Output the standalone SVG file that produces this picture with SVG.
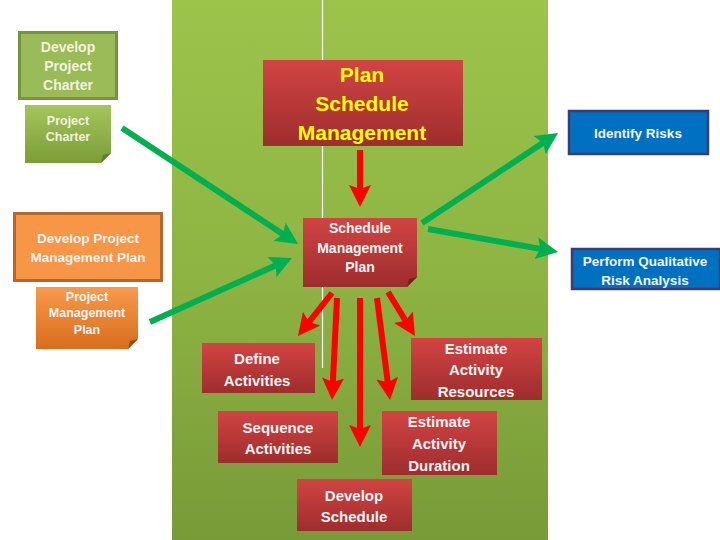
<svg xmlns="http://www.w3.org/2000/svg" width="720" height="540" viewBox="0 0 720 540">
<defs>
  <linearGradient id="gPanel" x1="0" y1="0" x2="0" y2="1">
    <stop offset="0" stop-color="#9cc44b"/>
    <stop offset="0.5" stop-color="#8eb443"/>
    <stop offset="1" stop-color="#789a38"/>
  </linearGradient>
  <linearGradient id="gRed" x1="0" y1="0" x2="0" y2="1">
    <stop offset="0" stop-color="#d24443"/>
    <stop offset="1" stop-color="#9e2d2d"/>
  </linearGradient>
  <linearGradient id="gGreenDoc" x1="0" y1="0" x2="0" y2="1">
    <stop offset="0" stop-color="#a4c65c"/>
    <stop offset="1" stop-color="#7d9c36"/>
  </linearGradient>
  <linearGradient id="gOrangeDoc" x1="0" y1="0" x2="0" y2="1">
    <stop offset="0" stop-color="#f89a4c"/>
    <stop offset="1" stop-color="#d86d1e"/>
  </linearGradient>
  <marker id="hGreen" viewBox="0 -12 22 24" markerWidth="22" markerHeight="24" refX="10" refY="0" orient="auto" markerUnits="userSpaceOnUse">
    <path d="M22 0 L0 -11 L4 0 L0 11 Z" fill="#00b050"/>
  </marker>
  <marker id="hRed" viewBox="0 -12 22 24" markerWidth="22" markerHeight="24" refX="10" refY="0" orient="auto" markerUnits="userSpaceOnUse">
    <path d="M22 0 L0 -11 L4 0 L0 11 Z" fill="#ff0000"/>
  </marker>
</defs>
<style>
  text { font-family: "Liberation Sans", Arial, sans-serif; font-weight: bold; text-anchor: middle; dominant-baseline: central; }
  .w { fill: #f4f4f4; }
  .lg { fill: #f2f2de; }
  .y { fill: #ffff00; font-size: 21px; }
  .redbox { fill: url(#gRed); }
  .fold-red { fill: #7a1f1f; }
  .blue { fill: #0070c0; stroke: #3c3c6e; stroke-width: 2.5; }
  .ga { stroke: #00b050; stroke-width: 6; fill: none; marker-end: url(#hGreen); }
  .ra { stroke: #ff0000; stroke-width: 6; fill: none; marker-end: url(#hRed); }
</style>
<rect width="720" height="540" fill="#ffffff"/>
<g id="panel">
  <rect x="172" y="0" width="376" height="540" fill="url(#gPanel)"/>
  <line x1="322.5" y1="0" x2="322.5" y2="368" stroke="#ffffff" stroke-width="1.2"/>
</g>

<g id="develop-project-charter">
  <rect x="19.5" y="32.5" width="97" height="66" fill="#9bbb59" stroke="#77933c" stroke-width="3"/>
  <text class="lg" font-size="14" x="68" y="47">Develop</text>
  <text class="lg" font-size="14" x="68" y="66">Project</text>
  <text class="lg" font-size="14" x="68" y="85">Charter</text>
</g>
<g id="project-charter">
  <path d="M25 105 H111 V153 L101 163 H25 Z" fill="url(#gGreenDoc)"/>
  <path d="M111 153 L101 163 L103 155 Z" fill="#5f7a28"/>
  <text class="lg" font-size="12.5" x="68" y="121">Project</text>
  <text class="lg" font-size="12.5" x="68" y="137">Charter</text>
</g>

<g id="develop-pm-plan">
  <rect x="14.5" y="213.5" width="147" height="67" fill="#f79646" stroke="#b4682d" stroke-width="3"/>
  <text class="w" font-size="13.5" x="88" y="238">Develop Project</text>
  <text class="w" font-size="13.5" x="88" y="257">Management Plan</text>
</g>
<g id="pm-plan">
  <path d="M36 287 H138 V339 L128 349 H36 Z" fill="url(#gOrangeDoc)"/>
  <path d="M138 339 L128 349 L130 341 Z" fill="#9a4a10"/>
  <text class="w" font-size="12.5" x="87" y="297">Project</text>
  <text class="w" font-size="12.5" x="87" y="313">Management</text>
  <text class="w" font-size="12.5" x="87" y="330">Plan</text>
</g>

<g id="plan-schedule-management">
  <rect class="redbox" x="263" y="60" width="200" height="86"/>
  <text class="y" x="362" y="74">Plan</text>
  <text class="y" x="362" y="103">Schedule</text>
  <text class="y" x="362" y="132">Management</text>
</g>

<g id="schedule-management-plan">
  <path class="redbox" d="M303 218 H417 V277 L407 287 H303 Z"/>
  <path class="fold-red" d="M417 277 L407 287 L409 279 Z"/>
  <text class="w" font-size="14" x="360" y="228">Schedule</text>
  <text class="w" font-size="14" x="360" y="248">Management</text>
  <text class="w" font-size="14" x="360" y="267">Plan</text>
</g>

<g id="identify-risks">
  <rect class="blue" x="569" y="111" width="139" height="43"/>
  <text class="w" font-size="13.5" x="638" y="133">Identify Risks</text>
</g>
<g id="perform-qualitative">
  <rect class="blue" x="572" y="249" width="148" height="40"/>
  <text class="w" font-size="13.5" x="645" y="261">Perform Qualitative</text>
  <text class="w" font-size="13.5" x="645" y="280">Risk Analysis</text>
</g>

<g id="define-activities">
  <rect class="redbox" x="202" y="343" width="113" height="50"/>
  <text class="w" font-size="15" x="257" y="358">Define</text>
  <text class="w" font-size="15" x="257" y="380">Activities</text>
</g>
<g id="estimate-activity-resources">
  <rect class="redbox" x="411" y="338" width="131" height="62"/>
  <text class="w" font-size="15" x="476" y="348">Estimate</text>
  <text class="w" font-size="15" x="476" y="369">Activity</text>
  <text class="w" font-size="15" x="476" y="391">Resources</text>
</g>
<g id="sequence-activities">
  <rect class="redbox" x="218" y="411" width="120" height="52"/>
  <text class="w" font-size="15" x="278" y="427">Sequence</text>
  <text class="w" font-size="15" x="278" y="448">Activities</text>
</g>
<g id="estimate-activity-duration">
  <rect class="redbox" x="382" y="411" width="115" height="64"/>
  <text class="w" font-size="15" x="439" y="421">Estimate</text>
  <text class="w" font-size="15" x="439" y="443">Activity</text>
  <text class="w" font-size="15" x="439" y="465">Duration</text>
</g>
<g id="develop-schedule">
  <rect class="redbox" x="297" y="479" width="115" height="52"/>
  <text class="w" font-size="15" x="354" y="495">Develop</text>
  <text class="w" font-size="15" x="354" y="516">Schedule</text>
</g>

<g id="connectors">
  <line class="ra" x1="360" y1="150" x2="360" y2="195"/>
  <line class="ra" x1="332" y1="293" x2="305.4" y2="326.6"/>
  <line class="ra" x1="337" y1="298" x2="332.6" y2="388"/>
  <line class="ra" x1="360" y1="298" x2="360" y2="435"/>
  <line class="ra" x1="377" y1="298" x2="388.5" y2="388.1"/>
  <line class="ra" x1="388" y1="292" x2="408.7" y2="325.8"/>
  <line class="ga" x1="122" y1="128" x2="288" y2="237.4"/>
  <line class="ga" x1="150" y1="322" x2="281.1" y2="262.9"/>
  <line class="ga" x1="422" y1="223" x2="548" y2="139.6"/>
  <line class="ga" x1="428" y1="229" x2="546.2" y2="249.9"/>
</g>
</svg>
